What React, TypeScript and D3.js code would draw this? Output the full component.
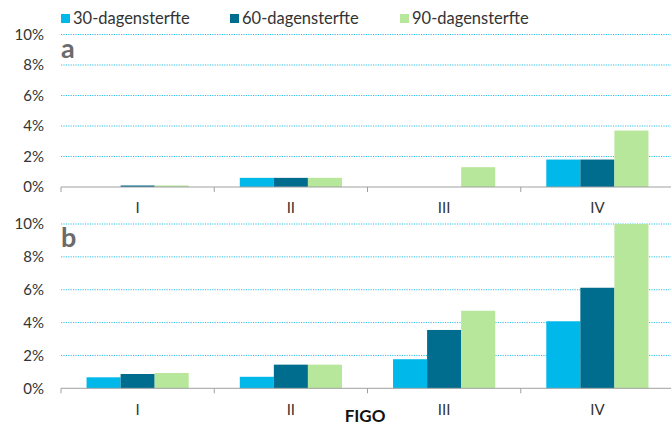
import * as d3 from 'd3';
import { type FC } from 'react';

const categories = ['I', 'II', 'III', 'IV'];
const seriesNames = ['30-dagensterfte', '60-dagensterfte', '90-dagensterfte'];
const seriesColors = ['#00b9ea', '#006c8e', '#b7e79a'];

// panel a
const a30 = [0.0, 0.6, 0.0, 1.8];
const a60 = [0.1, 0.6, 0.0, 1.8];
const a90 = [0.1, 0.6, 1.3, 3.7];

// panel b
const b30 = [0.67, 0.7, 1.77, 4.08];
const b60 = [0.87, 1.44, 3.55, 6.12];
const b90 = [0.93, 1.44, 4.72, 10.0];

const yTicks = [0, 2, 4, 6, 8, 10];

const width = 671;
const height = 426;
const plotLeft = 61;
const plotRight = 674;
const font = 'Lato, "Noto Sans", sans-serif';

const x = d3.scaleBand<string>(categories, [plotLeft, plotRight]);
const xs = d3
  .scaleBand<string>(seriesNames, [0, x.bandwidth()])
  .paddingInner(0)
  .paddingOuter(0.75);

type PanelProps = {
  series: number[][];
  top: number;
  bottom: number;
  letter: string;
};

const Panel: FC<PanelProps> = ({ series, top, bottom, letter }) => {
  const y = d3.scaleLinear([0, 10], [bottom, top]);
  const boundaries = [...categories.map((c) => x(c) ?? 0), plotRight];
  return (
    <g>
      {yTicks.map((t) => (
        <g key={t}>
          {t > 0 && (
            <line
              x1={plotLeft}
              x2={width}
              y1={y(t)}
              y2={y(t)}
              stroke='#2cc0e6'
              strokeWidth={1}
              strokeDasharray='1.2 1.2'
            />
          )}
          <text
            x={44}
            y={y(t)}
            dy='0.35em'
            textAnchor='end'
            fontSize={15}
            fill='#333'
          >
            {t}%
          </text>
        </g>
      ))}
      <text x={61} y={top + 23} fontSize={27} fontWeight={700} fill='#6b6b6b'>
        {letter}
      </text>
      {series.map((vals, si) =>
        vals.map((v, ci) => (
          <rect
            key={`${si}-${ci}`}
            x={(x(categories[ci]) ?? 0) + (xs(seriesNames[si]) ?? 0)}
            width={xs.bandwidth()}
            y={y(v)}
            height={y(0) - y(v)}
            fill={seriesColors[si]}
          />
        )),
      )}
      <line
        x1={plotLeft}
        x2={width}
        y1={y(0)}
        y2={y(0)}
        stroke='#a0a0a0'
        strokeWidth={1}
      />
      {boundaries.map((b, i) => (
        <line
          key={i}
          x1={b}
          x2={b}
          y1={y(0)}
          y2={y(0) + 5}
          stroke='#a0a0a0'
          strokeWidth={1}
        />
      ))}
      {categories.map((c) => (
        <text
          key={c}
          x={(x(c) ?? 0) + x.bandwidth() / 2}
          y={y(0) + 21}
          dy='0.35em'
          textAnchor='middle'
          fontSize={15}
          fill='#333'
        >
          {c}
        </text>
      ))}
    </g>
  );
};

const App: FC = () => {
  const legendX = [61, 230, 400];
  return (
    <svg
      width={width}
      height={height}
      viewBox={`0 0 ${width} ${height}`}
      style={{ position: 'absolute', left: 0, top: 0, fontFamily: font }}
    >
      <rect width={width} height={height} fill='#fff' />
      {seriesNames.map((s, i) => (
        <g key={s}>
          <rect x={legendX[i]} y={14} width={9} height={9} fill={seriesColors[i]} />
          <text x={legendX[i] + 12} y={18} dy='0.35em' fontSize={16.5} fill='#333'>
            {s}
          </text>
        </g>
      ))}
      <Panel series={[a30, a60, a90]} top={34.5} bottom={187} letter='a' />
      <Panel series={[b30, b60, b90]} top={224} bottom={388.3} letter='b' />
      <text
        x={365}
        y={416}
        dy='0.35em'
        textAnchor='middle'
        fontSize={17}
        fontWeight={700}
        fill='#111'
      >
        FIGO
      </text>
    </svg>
  );
};

export default App;
